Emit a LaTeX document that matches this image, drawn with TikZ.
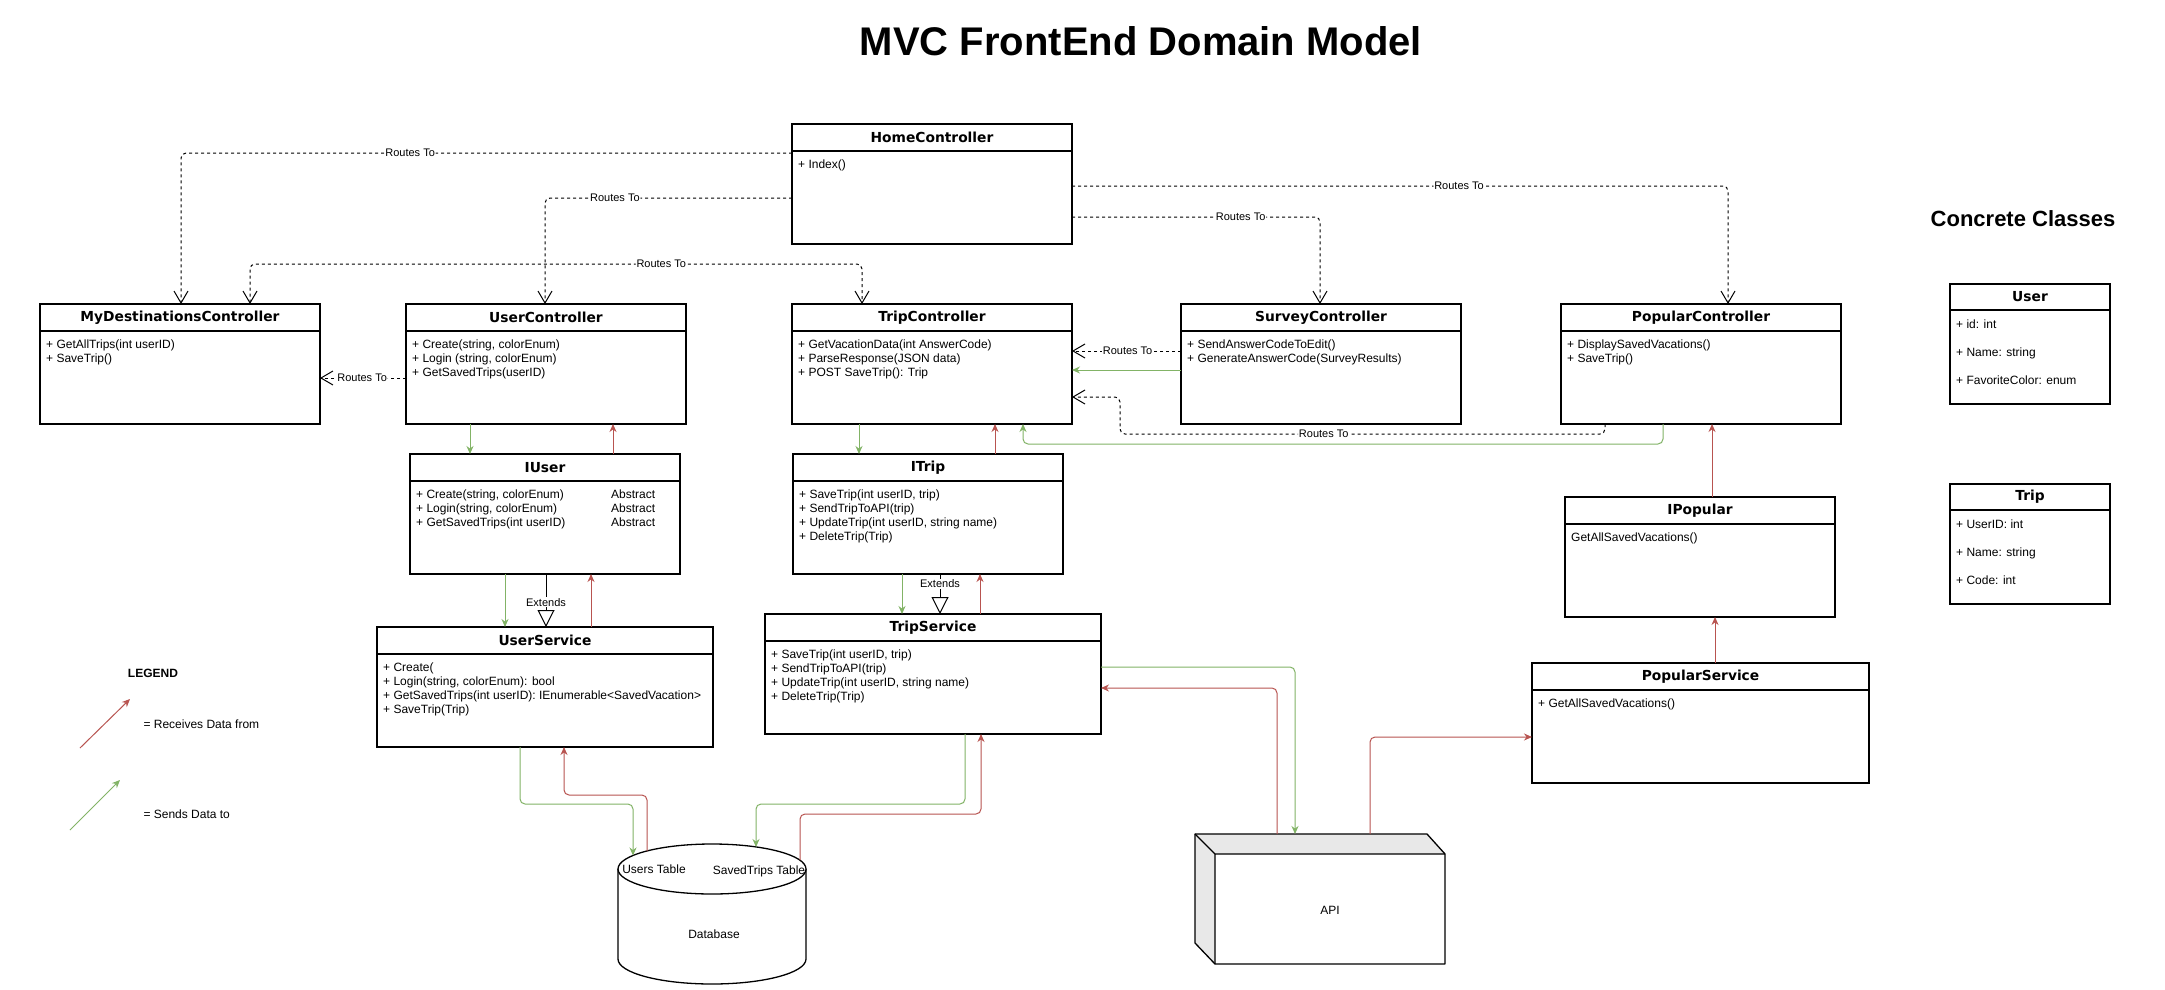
\documentclass[tikz,border=0pt]{standalone}
\usepackage{fontspec}
\setmainfont{Liberation Sans}
\newfontfamily\boxfont{DejaVu Sans}
\usetikzlibrary{positioning,arrows.meta}
\definecolor{sendc}{HTML}{82B366}
\definecolor{recvc}{HTML}{B85450}
\begin{document}
\begin{tikzpicture}[x=1pt,y=-1pt,
	head/.style={draw, line width=1.3pt, outer sep=0pt, inner sep=0pt, minimum height=27pt, anchor=north west, font=\boxfont\bfseries\fontsize{13.8}{15}\selectfont},
	body/.style={draw, line width=1.3pt, outer sep=0pt, inner sep=0pt, minimum height=93pt},
	rows/.style={anchor=north west, align=left, inner sep=0pt, font=\fontsize{12}{14}\selectfont},
	attrs/.style={anchor=north west, align=left, inner sep=0pt, font=\fontsize{12}{28}\selectfont},
	lbl/.style={fill=white, inner sep=1pt, font=\fontsize{11}{12}\selectfont},
	route/.style={line width=1pt, dash pattern=on 3pt off 3pt, rounded corners=5pt, -{Straight Barb[length=12pt,width=14pt]}},
	sends/.style={draw=sendc, line width=1pt, rounded corners=5pt, -{Stealth[length=8pt,width=7pt]}},
	recv/.style={draw=recvc, line width=1pt, rounded corners=5pt, -{Stealth[length=8pt,width=7pt]}},
	ext/.style={line width=1pt, -{Triangle[open,length=17pt,width=17pt]}}]
		\fill[white] (0,0) rectangle (2165,990);
		\node[font=\bfseries\fontsize{40}{48}\selectfont] (title) at (1141,41) {MVC FrontEnd Domain Model};
		\node[font=\bfseries\fontsize{22}{26}\selectfont] (cc) at (2023,219) {Concrete Classes};

		\node[head, minimum width=280] (hc) at (792,124) {HomeController};
		\node[body, minimum width=280, below=0pt of hc] (hc-b) {};
		\node[rows] (hc-t) at ([shift={(6,8.5)}]hc-b.north west) {+ Index()};

		\node[head, minimum width=280] (mdc) at (40,304) {MyDestinationsController};
		\node[body, minimum width=280, below=0pt of mdc] (mdc-b) {};
		\node[rows] (mdc-t) at ([shift={(6,8.5)}]mdc-b.north west) {+ GetAllTrips(int userID)\\+ SaveTrip()};

		\node[head, minimum width=280] (uc) at (406,304) {UserController};
		\node[body, minimum width=280, below=0pt of uc] (uc-b) {};
		\node[rows] (uc-t) at ([shift={(6,8.5)}]uc-b.north west) {+ Create(string, colorEnum)\\+ Login (string, colorEnum)\\+ GetSavedTrips(userID)};

		\node[head, minimum width=280] (tc) at (792,304) {TripController};
		\node[body, minimum width=280, below=0pt of tc] (tc-b) {};
		\node[rows] (tc-t) at ([shift={(6,8.5)}]tc-b.north west) {+ GetVacationData(int AnswerCode)\\+ ParseResponse(JSON data)\\+ POST SaveTrip(): Trip};

		\node[head, minimum width=280] (sc) at (1181,304) {SurveyController};
		\node[body, minimum width=280, below=0pt of sc] (sc-b) {};
		\node[rows] (sc-t) at ([shift={(6,8.5)}]sc-b.north west) {+ SendAnswerCodeToEdit()\\+ GenerateAnswerCode(SurveyResults)};

		\node[head, minimum width=280] (pc) at (1561,304) {PopularController};
		\node[body, minimum width=280, below=0pt of pc] (pc-b) {};
		\node[rows] (pc-t) at ([shift={(6,8.5)}]pc-b.north west) {+ DisplaySavedVacations()\\+ SaveTrip()};

		\node[head, minimum width=270] (iu) at (410,454) {IUser};
		\node[body, minimum width=270, below=0pt of iu] (iu-b) {};
		\node[rows] (iu-t) at ([shift={(6,8.5)}]iu-b.north west) {+ Create(string, colorEnum)\\+ Login(string, colorEnum)\\+ GetSavedTrips(int userID)};
		\node[rows] (iu-a) at ([shift={(201,8.5)}]iu-b.north west) {Abstract\\Abstract\\Abstract};

		\node[head, minimum width=270] (it) at (793,454) {ITrip};
		\node[body, minimum width=270, below=0pt of it] (it-b) {};
		\node[rows] (it-t) at ([shift={(6,8.5)}]it-b.north west) {+ SaveTrip(int userID, trip)\\+ SendTripToAPI(trip)\\+ UpdateTrip(int userID, string name)\\+ DeleteTrip(Trip)};

		\node[head, minimum width=336] (us) at (377,627) {UserService};
		\node[body, minimum width=336, below=0pt of us] (us-b) {};
		\node[rows] (us-t) at ([shift={(6,8.5)}]us-b.north west) {+ Create(\\+ Login(string, colorEnum): bool\\+ GetSavedTrips(int userID): IEnumerable<SavedVacation>\\+ SaveTrip(Trip)};

		\node[head, minimum width=336] (ts) at (765,614) {TripService};
		\node[body, minimum width=336, below=0pt of ts] (ts-b) {};
		\node[rows] (ts-t) at ([shift={(6,8.5)}]ts-b.north west) {+ SaveTrip(int userID, trip)\\+ SendTripToAPI(trip)\\+ UpdateTrip(int userID, string name)\\+ DeleteTrip(Trip)};

		\node[head, minimum width=270] (ip) at (1565,497) {IPopular};
		\node[body, minimum width=270, below=0pt of ip] (ip-b) {};
		\node[rows] (ip-t) at ([shift={(6,8.5)}]ip-b.north west) {GetAllSavedVacations()};

		\node[head, minimum width=337] (ps) at (1532,663) {PopularService};
		\node[body, minimum width=337, below=0pt of ps] (ps-b) {};
		\node[rows] (ps-t) at ([shift={(6,8.5)}]ps-b.north west) {+ GetAllSavedVacations()};

		\node[head, minimum width=160, minimum height=26] (user) at (1950,284) {User};
		\node[body, minimum width=160, minimum height=94, below=0pt of user] (user-b) {};
		\node[attrs] (user-t) at ([shift={(6,9.5)}]user-b.north west) {+ id: int\\+ Name: string\\+ FavoriteColor: enum};

		\node[head, minimum width=160, minimum height=26] (trip) at (1950,484) {Trip};
		\node[body, minimum width=160, minimum height=94, below=0pt of trip] (trip-b) {};
		\node[attrs] (trip-t) at ([shift={(6,9.5)}]trip-b.north west) {+ UserID: int\\+ Name: string\\+ Code: int};

		\draw[line width=1.3pt] (618,869) -- (618,959) arc[start angle=180, end angle=0, x radius=94, y radius=25] -- (806,869);
		\draw[line width=1.3pt, fill=white] (712,869) ellipse [x radius=94, y radius=25];
		\node[font=\fontsize{12}{14}\selectfont] (db) at (714,934) {Database};
		\node[font=\fontsize{12}{14}\selectfont] (db-u) at (654,869) {Users Table};
		\node[font=\fontsize{12}{14}\selectfont] (db-s) at (759,871) {SavedTrips Table};
		\coordinate (db-u-in) at (633,855.5);
		\coordinate (db-u-out) at (647,851);
		\coordinate (db-s-in) at (756,847);
		\coordinate (db-s-out) at (800,860);

		\fill[gray!18] (1195,834) -- (1427,834) -- (1445,854) -- (1215,854) -- cycle;
		\fill[gray!18] (1195,834) -- (1215,854) -- (1215,964) -- (1195,943) -- cycle;
		\draw[line width=1.3pt, line join=round] (1195,834) -- (1427,834) -- (1445,854) -- (1445,964) -- (1215,964) -- (1195,943) -- cycle;
		\draw[line width=1.3pt] (1195,834) -- (1215,854) -- (1445,854) (1215,854) -- (1215,964);
		\node[font=\fontsize{12}{14}\selectfont] (api) at (1330,910) {API};
		\coordinate (api-g) at (1295,834);
		\coordinate (api-r1) at (1277,834);
		\coordinate (api-r2) at (1370,834);

		\draw[route] (hc-b.west |- 0,153) -- node[lbl, pos=.625] {Routes To} (181,153) -- (mdc.north -| 181,0);
		\draw[route] (hc-b.west |- 0,198) -- node[lbl, pos=.717] {Routes To} (545,198) -- (uc.north -| 545,0);
		\draw[route, {Straight Barb[length=12pt,width=14pt]}-{Straight Barb[length=12pt,width=14pt]}] (mdc.north -| 250,0) -- (250,264) -- node[lbl, pos=.672] {Routes To} (862,264) -- (tc.north -| 862,0);
		\draw[route] (hc-b.east |- 0,217) -- node[lbl, pos=.68] {Routes To} (1320,217) -- (sc.north -| 1320,0);
		\draw[route] (hc-b.east |- 0,186) -- node[lbl, pos=.59] {Routes To} (1728,186) -- (pc.north -| 1728,0);
		\draw[route] (sc-b.west |- 0,351) -- node[lbl, pos=.49] {Routes To} (tc-b.east |- 0,351);
		\draw[route] (pc-b.south -| 1605,0) -- (1605,434) -- node[lbl, pos=.58] {Routes To} (1120,434) -- (1120,397) -- (tc-b.east |- 0,397);
		\draw[route] (uc-b.west |- 0,378) -- node[lbl, pos=.51] {Routes To} (mdc-b.east |- 0,378);

		\draw[sends] (uc-b.south -| 470,0) -- (iu.north -| 470,0);
		\draw[sends] (iu-b.south -| 505,0) -- (us.north -| 505,0);
		\draw[sends] (tc-b.south -| 859,0) -- (it.north -| 859,0);
		\draw[sends] (it-b.south -| 902,0) -- (ts.north -| 902,0);
		\draw[sends] (sc-b.west |- 0,370) -- (tc-b.east |- 0,370);
		\draw[sends] (pc-b.south -| 1663,0) -- (1663,444) -- (1023,444) -- (tc-b.south -| 1023,0);
		\draw[sends] (us-b.south -| 520,0) -- (520,804) -- (633,804) -- (db-u-in);
		\draw[sends] (ts-b.south -| 965,0) -- (965,804) -- (756,804) -- (db-s-in);
		\draw[sends] (ts-b.east |- 0,667) -- (1295,667) -- (api-g);

		\draw[recv] (iu.north -| 613,0) -- (uc-b.south -| 613,0);
		\draw[recv] (us.north -| 591,0) -- (iu-b.south -| 591,0);
		\draw[recv] (it.north -| 995,0) -- (tc-b.south -| 995,0);
		\draw[recv] (ts.north -| 980,0) -- (it-b.south -| 980,0);
		\draw[recv] (ip.north -| 1712,0) -- (pc-b.south -| 1712,0);
		\draw[recv] (ps.north -| 1715,0) -- (ip-b.south -| 1715,0);
		\draw[recv] (db-u-out) -- (647,795) -- (564,795) -- (us-b.south -| 564,0);
		\draw[recv] (db-s-out) -- (800,814) -- (981,814) -- (ts-b.south -| 981,0);
		\draw[recv] (api-r1) -- (1277,688) -- (ts-b.east |- 0,688);
		\draw[recv] (api-r2) -- (1370,737) -- (ps-b.west |- 0,737);

		\draw[ext] (iu-b.south -| 546,0) -- node[lbl, pos=.53] {Extends} (us.north -| 546,0);
		\draw[ext] (it-b.south -| 940,0) -- node[lbl, pos=.25] {Extends} (ts.north -| 940,0);

		\node[font=\bfseries\fontsize{12}{14}\selectfont] (legend) at (153,673) {LEGEND};
		\coordinate (lg-r1) at (80,748);
		\coordinate (lg-r2) at (130,699);
		\coordinate (lg-s1) at (70,830);
		\coordinate (lg-s2) at (120,780);
		\draw[recv] (lg-r1) -- (lg-r2);
		\draw[sends] (lg-s1) -- (lg-s2);
		\node[anchor=west, font=\fontsize{12}{14}\selectfont] (lg-rt) at (140,724) {= Receives Data from};
		\node[anchor=west, font=\fontsize{12}{14}\selectfont] (lg-st) at (140,814) {= Sends Data to};
\end{tikzpicture}
\end{document}
